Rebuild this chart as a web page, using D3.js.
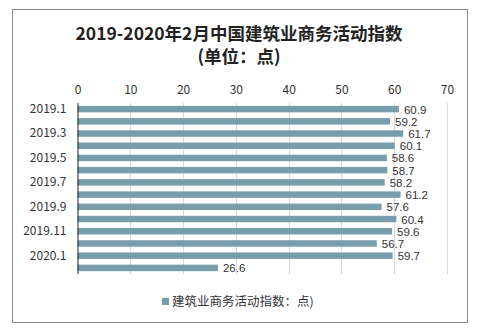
<!DOCTYPE html>
<html>
<head>
<meta charset="utf-8">
<script src="https://cdn.jsdelivr.net/npm/d3@7"></script>
<style>
  html, body { margin: 0; padding: 0; background: #fff; }
  svg { display: block; }
</style>
</head>
<body>
<svg id="chart" width="504" height="332"></svg>
<script>
// Construction business activity index, Jan 2019 – Feb 2020
const months = ["2019.1","2019.2","2019.3","2019.4","2019.5","2019.6","2019.7","2019.8","2019.9","2019.10","2019.11","2019.12","2020.1","2020.2"];
const indexValues = [60.9, 59.2, 61.7, 60.1, 58.6, 58.7, 58.2, 61.2, 57.6, 60.4, 59.6, 56.7, 59.7, 26.6];
const xTicks = [0, 10, 20, 30, 40, 50, 60, 70];
const titleLines = ["2019-2020年2月中国建筑业商务活动指数", "(单位：点)"];
const legendLabel = "建筑业商务活动指数：点)";

const font = "'Microsoft YaHei', 'Noto Sans CJK SC', sans-serif";
const valueFont = "'Liberation Sans', Arial, sans-serif";
const barColor = "#789eae";

const svg = d3.select("#chart");

// outer frame
svg.append("rect")
  .attr("x", 12.5).attr("y", 9.5)
  .attr("width", 455).attr("height", 313)
  .attr("fill", "#fff").attr("stroke", "#8c8c8c").attr("stroke-width", 1);

// title
svg.selectAll("text.title")
  .data(titleLines)
  .join("text")
  .attr("class", "title")
  .attr("x", 239).attr("y", (d, i) => 40 + i * 23)
  .attr("text-anchor", "middle")
  .attr("font-family", font).attr("font-weight", "bold").attr("font-size", 17.5)
  .attr("fill", "#222")
  .text(d => d);

const x = d3.scaleLinear().domain([0, 70]).range([77.5, 447]);
const y = d3.scaleBand().domain(months).range([103, 274]).paddingInner(0.47).paddingOuter(0.235);

// vertical gridlines
svg.append("g")
  .selectAll("line")
  .data(xTicks.filter(t => t > 0))
  .join("line")
  .attr("x1", d => Math.round(x(d)) + 0.5).attr("x2", d => Math.round(x(d)) + 0.5)
  .attr("y1", 103).attr("y2", 274)
  .attr("stroke", "#d9d9d9").attr("stroke-width", 1);

// top value axis (labels only)
const xAxis = svg.append("g")
  .attr("transform", "translate(0,94)")
  .call(d3.axisTop(x).tickValues(xTicks).tickSize(0).tickPadding(0));
xAxis.select(".domain").remove();
xAxis.selectAll("text")
  .attr("font-family", font).attr("font-size", 12).attr("fill", "#333");

// bars
svg.append("g")
  .selectAll("rect")
  .data(indexValues)
  .join("rect")
  .attr("x", x(0))
  .attr("y", (d, i) => y(months[i]))
  .attr("width", d => x(d) - x(0))
  .attr("height", y.bandwidth())
  .attr("fill", barColor);

// value labels
svg.append("g")
  .selectAll("text")
  .data(indexValues)
  .join("text")
  .attr("x", d => x(d) + 5)
  .attr("y", (d, i) => y(months[i]) + y.bandwidth() / 2 + 4.5)
  .attr("font-family", valueFont).attr("font-size", 11.5).attr("fill", "#333")
  .text(d => d.toFixed(1));

// category axis on the left
const yAxis = svg.append("g")
  .attr("transform", `translate(${x(0)},0)`)
  .call(d3.axisLeft(y).tickValues(months.filter((m, i) => i % 2 === 0)).tickSize(0).tickPadding(11));
yAxis.select(".domain").attr("stroke", "#222").attr("d", "M0.5,103V274");
yAxis.selectAll("text")
  .attr("font-family", font).attr("font-size", 12).attr("fill", "#333");

// legend
svg.append("rect")
  .attr("x", 162).attr("y", 298)
  .attr("width", 7).attr("height", 7)
  .attr("fill", barColor);
svg.append("text")
  .attr("x", 172).attr("y", 306)
  .attr("font-family", font).attr("font-size", 12.5).attr("fill", "#333")
  .text(legendLabel);
</script>
</body>
</html>
